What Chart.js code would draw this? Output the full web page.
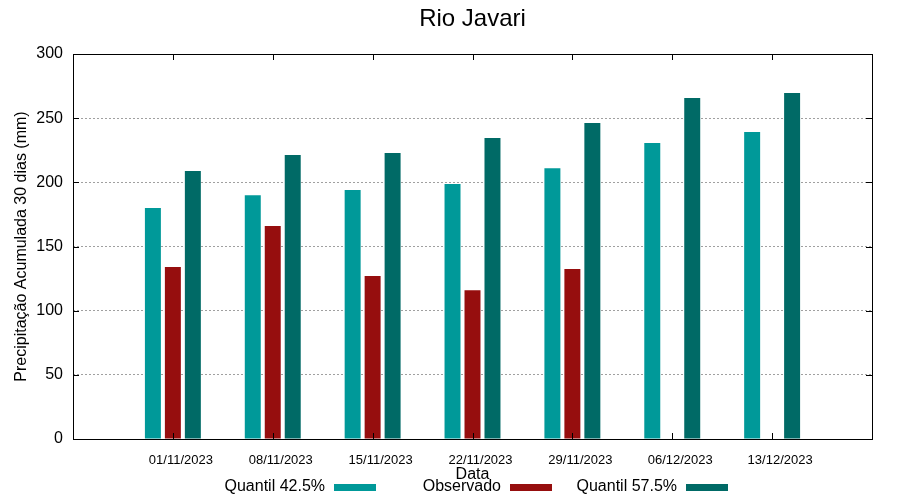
<!DOCTYPE html>
<html>
<head>
<meta charset="utf-8">
<title>Rio Javari</title>
<script src="https://cdn.jsdelivr.net/npm/chart.js@4.4.1/dist/chart.umd.min.js"></script>
<style>
  html, body { margin: 0; padding: 0; background: #ffffff; }
  #wrap { width: 900px; height: 500px; }
</style>
</head>
<body>
<div id="wrap"><canvas id="chart" width="900" height="500"></canvas></div>
<script>
const dates = ['01/11/2023', '08/11/2023', '15/11/2023', '22/11/2023', '29/11/2023', '06/12/2023', '13/12/2023']
const q425 = [180, 190, 194, 198.7, 211, 230.6, 239.2]
const observado = [134, 166, 127, 116, 132.5, null, null]
const q575 = [208.8, 221.3, 222.9, 234.5, 246.2, 265.7, 269.6]
const yTicks = [0, 50, 100, 150, 200, 250, 300]

const chartTitle = 'Rio Javari'
const yTitle = 'Precipitação Acumulada 30 dias (mm)'
const xTitle = 'Data'

// one empty slot on each side so the groups sit one step in from the frame
const pad = arr => [null, ...arr, null]
const labels = ['', ...dates, '']

Chart.defaults.font.family = "'Liberation Sans', Arial, sans-serif"
Chart.defaults.color = '#000000'

const framePlugin = {
  id: 'frame',
  afterDraw (chart) {
    const { ctx, chartArea: a, scales } = chart
    ctx.save()
    ctx.strokeStyle = '#000000'
    ctx.lineWidth = 1
    ctx.beginPath()
    // inward ticks, mirrored like gnuplot
    yTicks.forEach(v => {
      const y = Math.round(scales.y.getPixelForValue(v)) + 0.5
      ctx.moveTo(a.left, y); ctx.lineTo(a.left + 6, y)
      ctx.moveTo(a.right, y); ctx.lineTo(a.right - 6, y)
    })
    dates.forEach((d, i) => {
      const x = Math.round(scales.x.getPixelForValue(i + 1)) + 0.5
      ctx.moveTo(x, a.top); ctx.lineTo(x, a.top + 6)
      ctx.moveTo(x, a.bottom); ctx.lineTo(x, a.bottom - 6)
    })
    ctx.stroke()
    ctx.strokeRect(Math.round(a.left) + 0.5, Math.round(a.top) + 0.5, Math.round(a.right - a.left), Math.round(a.bottom - a.top))

    // title centred over the plot area
    ctx.fillStyle = '#000000'
    ctx.font = "24px 'Liberation Sans', Arial, sans-serif"
    ctx.textAlign = 'center'
    ctx.textBaseline = 'middle'
    ctx.fillText(chartTitle, (a.left + a.right) / 2, 19)

    // key: text first, sample after it
    ctx.font = "16px 'Liberation Sans', Arial, sans-serif"
    ctx.textAlign = 'right'
    chart.data.datasets.forEach((ds, i) => {
      const sx = 334 + 176 * i
      ctx.fillStyle = ds.backgroundColor
      ctx.fillRect(sx, 484, 42, 7)
      ctx.fillStyle = '#000000'
      ctx.fillText(ds.label, sx - 9, 487)
    })
    ctx.restore()
  }
}

const data = {
  labels,
  datasets: [
    { label: 'Quantil 42.5%', data: pad(q425), backgroundColor: '#009999' },
    { label: 'Observado', data: pad(observado), backgroundColor: '#960e0e' },
    { label: 'Quantil 57.5%', data: pad(q575), backgroundColor: '#006a66' }
  ]
}

const options = {
  responsive: false,
  animation: false,
  devicePixelRatio: 1,
  layout: { padding: { top: 54, right: 28, left: 0, bottom: 0 } },
  datasets: { bar: { categoryPercentage: 0.6, barPercentage: 0.8, borderWidth: 0 } },
  plugins: {
    legend: { display: false },
    title: { display: false },
    tooltip: { enabled: false }
  },
  scales: {
    x: {
      offset: false,
      grid: { display: false, offset: false, drawTicks: false },
      border: { display: false },
      ticks: {
        autoSkip: false,
        maxRotation: 0,
        labelOffset: 8,
        padding: 14,
        font: { size: 13 },
        color: '#000000'
      },
      title: { display: true, text: xTitle, font: { size: 16 }, padding: { top: 0, bottom: 16 }, color: '#000000' },
      afterFit (scale) { scale.height = 61 }
    },
    y: {
      min: 0,
      max: 300,
      afterBuildTicks (scale) { scale.ticks = yTicks.map(v => ({ value: v })) },
      grid: {
        drawTicks: false,
        lineWidth: 1,
        color: ctx => (ctx.tick && (ctx.tick.value === 0 || ctx.tick.value === 300)) ? 'rgba(0,0,0,0)' : '#a0a0a0'
      },
      border: { display: false, dash: [2, 2] },
      ticks: { padding: 10, font: { size: 16 }, color: '#000000' },
      title: { display: true, text: yTitle, font: { size: 16 }, padding: { top: 12, bottom: 0 }, color: '#000000' },
      afterFit (scale) { scale.width = 73 }
    }
  }
}

new Chart(document.getElementById('chart').getContext('2d'), { type: 'bar', data, options, plugins: [framePlugin] })
</script>
</body>
</html>
